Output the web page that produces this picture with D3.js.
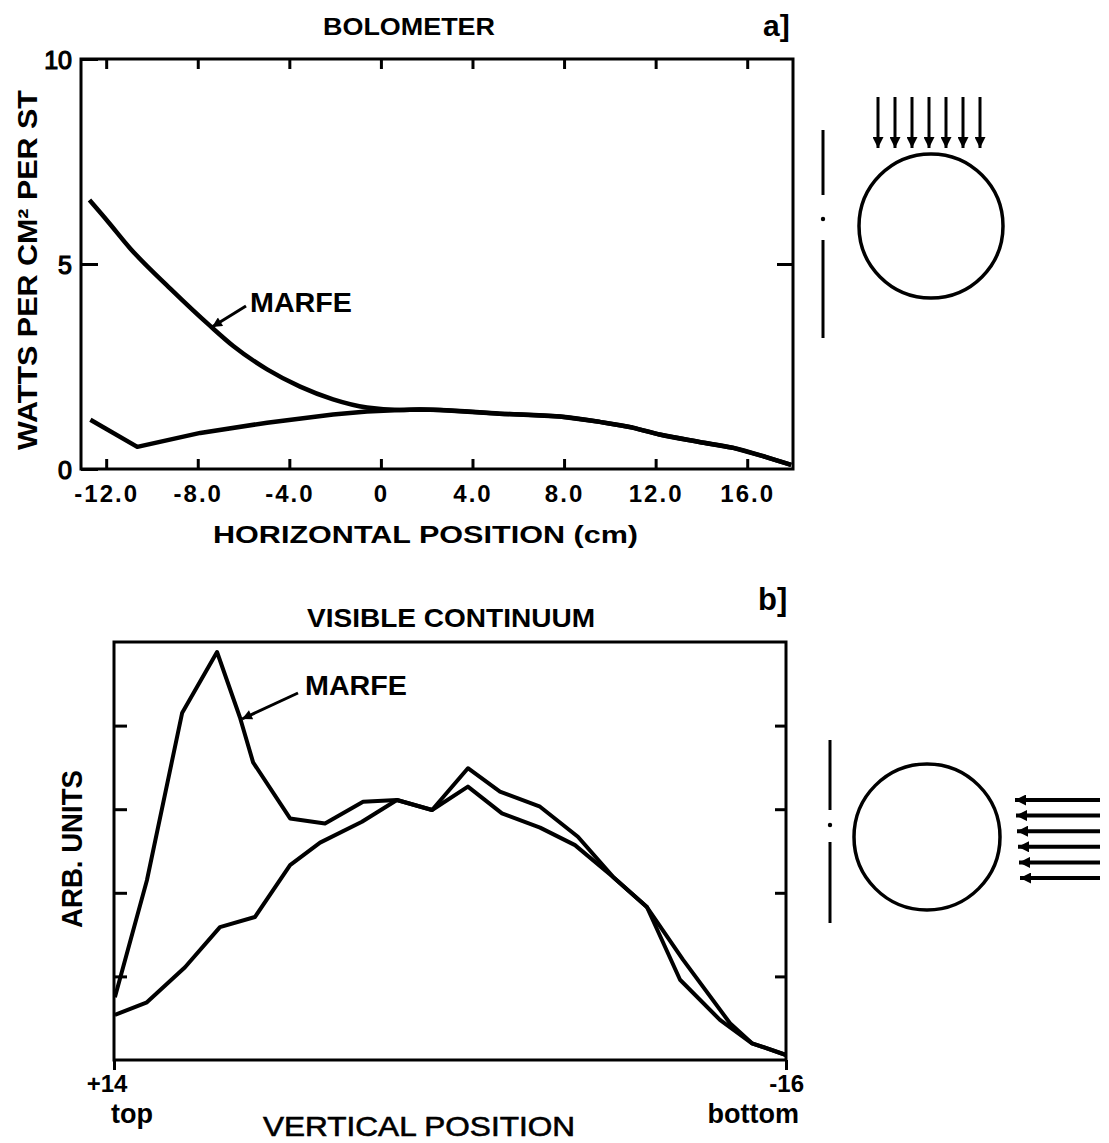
<!DOCTYPE html>
<html>
<head>
<meta charset="utf-8">
<script src="https://cdn.jsdelivr.net/npm/d3@7"></script>
<style>
  body { margin: 0; background: #fff; }
  text { font-family: "Liberation Sans", Arial, sans-serif; font-weight: bold; fill: #000; }
</style>
</head>
<body>
<script>
// a) bolometer, horizontal position (cm) vs watts per cm2 per st
var aMarfeX = [-12.73, -11.9, -10.95, -9.2, -7.46, -6.45, -4.97, -3.53, -2.09, -0.61, 0.83, 1.7, 2.57, 5.19, 7.81, 9.55, 10.99, 12.17, 13.91, 15.35, 16.83, 17.92];
var aMarfeY = [6.56, 6.02, 5.38, 4.40, 3.49, 3.00, 2.43, 2.01, 1.70, 1.50, 1.44, 1.45, 1.44, 1.35, 1.28, 1.15, 1.01, 0.84, 0.66, 0.52, 0.29, 0.10];
var aNormalX = [-12.69, -10.64, -7.89, -4.97, -2.09, -0.61, 0.83, 1.7, 2.57, 5.19, 7.81, 9.55, 10.99, 12.17, 13.91, 15.35, 16.83, 17.92];
var aNormalY = [1.20, 0.54, 0.88, 1.13, 1.33, 1.40, 1.44, 1.45, 1.44, 1.35, 1.28, 1.15, 1.01, 0.84, 0.66, 0.52, 0.29, 0.10];
var aXTicks = [-12, -8, -4, 0, 4, 8, 12, 16];
var aYTicks = [0, 5, 10];

// b) visible continuum, vertical position vs arb. units
var bMarfeX = [13.96, 12.53, 10.96, 9.40, 8.38, 7.79, 6.14, 4.58, 2.88, 1.37, -0.20, -1.80, -3.23, -5.02, -6.71, -8.28, -9.79, -11.27, -13.05, -14.48, -16];
var bMarfeY = [0.75, 2.15, 4.15, 4.88, 4.10, 3.56, 2.89, 2.83, 3.09, 3.11, 2.99, 3.49, 3.21, 3.03, 2.67, 2.19, 1.83, 0.96, 0.48, 0.20, 0.06];
var bNormalX = [13.96, 12.53, 10.83, 9.27, 7.71, 6.14, 4.80, 2.93, 1.37, -0.20, -1.80, -3.32, -5.02, -6.58, -8.28, -9.79, -11.40, -13.50, -14.48, -16];
var bNormalY = [0.54, 0.69, 1.11, 1.59, 1.71, 2.33, 2.60, 2.85, 3.11, 2.99, 3.27, 2.95, 2.78, 2.57, 2.19, 1.83, 1.20, 0.44, 0.20, 0.06];
var bYTicks = [1, 2, 3, 4];
var bEndTicks = [14, -16];
var bEndNums = ["+14", "-16"];
var bEndWords = ["top", "bottom"];

var svg = d3.select("body").append("svg")
  .attr("width", 1109)
  .attr("height", 1143);

svg.append("rect").attr("width", 1109).attr("height", 1143).attr("fill", "#fff");

var defs = svg.append("defs");
function marker(id, len, wid) {
  defs.append("marker")
    .attr("id", id)
    .attr("viewBox", "0 0 10 10")
    .attr("markerUnits", "userSpaceOnUse")
    .attr("markerWidth", len)
    .attr("markerHeight", wid)
    .attr("refX", 10)
    .attr("refY", 5)
    .attr("orient", "auto")
    .append("path")
    .attr("d", "M0,0 L10,5 L0,10 Z")
    .attr("fill", "#000");
}
marker("head", 15, 11);
marker("pointer", 13, 10);

function cleanAxis(g) {
  g.select(".domain").remove();
  g.selectAll(".tick line").attr("stroke", "#000").attr("stroke-width", 3);
}

// ---------- panel a ----------
var xa = d3.scaleLinear().domain([-13.1, 18]).range([81, 793]);
var ya = d3.scaleLinear().domain([0, 10]).range([469, 59]);

var ga = svg.append("g");

ga.append("g")
  .attr("transform", "translate(0," + ya(0) + ")")
  .call(d3.axisBottom(xa).tickValues(aXTicks).tickSize(-10)
    .tickFormat(d => d === 0 ? "0" : d.toFixed(1)))
  .call(cleanAxis)
  .call(g => g.selectAll("text")
    .attr("y", 33).attr("dy", null)
    .style("font-size", "24px").style("letter-spacing", "2px"));

ga.append("g")
  .attr("transform", "translate(0," + ya(10) + ")")
  .call(d3.axisTop(xa).tickValues(aXTicks).tickSize(-10).tickFormat(""))
  .call(cleanAxis);

ga.append("g")
  .attr("transform", "translate(" + xa.range()[0] + ",0)")
  .call(d3.axisLeft(ya).tickValues(aYTicks).tickSize(-17))
  .call(cleanAxis)
  .call(g => g.selectAll("text")
    .attr("x", -9).attr("dy", "0.36em")
    .style("font-size", "25px").style("font-weight", "normal")
    .attr("stroke", "#000").attr("stroke-width", 1.2));

ga.append("g")
  .attr("transform", "translate(" + xa.range()[1] + ",0)")
  .call(d3.axisRight(ya).tickValues([5]).tickSize(-16).tickFormat(""))
  .call(cleanAxis);

ga.append("rect")
  .attr("x", xa.range()[0]).attr("y", ya(10))
  .attr("width", xa.range()[1] - xa.range()[0])
  .attr("height", ya(0) - ya(10))
  .attr("fill", "none").attr("stroke", "#000").attr("stroke-width", 3);

var lineAM = d3.line().x(d => xa(d[0])).y(d => ya(d[1])).curve(d3.curveMonotoneX);
var lineAN = d3.line().x(d => xa(d[0])).y(d => ya(d[1])).curve(d3.curveLinear);

ga.append("path")
  .datum(d3.zip(aNormalX, aNormalY))
  .attr("d", lineAN)
  .attr("fill", "none").attr("stroke", "#000").attr("stroke-width", 4.5)
  .attr("stroke-linejoin", "round");

ga.append("path")
  .datum(d3.zip(aMarfeX, aMarfeY))
  .attr("d", lineAM)
  .attr("fill", "none").attr("stroke", "#000").attr("stroke-width", 4.5)
  .attr("stroke-linejoin", "round");

ga.append("text").attr("x", 323).attr("y", 35)
  .attr("textLength", 172).attr("lengthAdjust", "spacingAndGlyphs")
  .style("font-size", "24px").text("BOLOMETER");
ga.append("text").attr("x", 763).attr("y", 36)
  .style("font-size", "30px").text("a]");
ga.append("text")
  .attr("transform", "translate(37,270) rotate(-90)")
  .attr("text-anchor", "middle")
  .attr("textLength", 360).attr("lengthAdjust", "spacingAndGlyphs")
  .style("font-size", "27px").text("WATTS PER CM² PER ST");
ga.append("text").attr("x", 213).attr("y", 543)
  .attr("textLength", 425).attr("lengthAdjust", "spacingAndGlyphs")
  .style("font-size", "23px").text("HORIZONTAL  POSITION (cm)");

// MARFE pointer a
ga.append("text").attr("x", 250).attr("y", 312)
  .attr("textLength", 102).attr("lengthAdjust", "spacingAndGlyphs")
  .style("font-size", "27px").text("MARFE");
ga.append("line")
  .attr("x1", 246).attr("y1", 306).attr("x2", 212).attr("y2", 327)
  .attr("stroke", "#000").attr("stroke-width", 3)
  .attr("marker-end", "url(#pointer)");

// ---------- panel b ----------
var xb = d3.scaleLinear().domain([14, -16]).range([114, 786]);
var yb = d3.scaleLinear().domain([0, 5]).range([1060, 642]);

var gb = svg.append("g");

gb.append("g")
  .attr("transform", "translate(0," + yb(0) + ")")
  .call(d3.axisBottom(xb).tickValues(bEndTicks).tickSize(10).tickFormat(""))
  .call(cleanAxis);

gb.append("g")
  .attr("transform", "translate(" + xb.range()[0] + ",0)")
  .call(d3.axisLeft(yb).tickValues(bYTicks).tickSize(-13).tickFormat(""))
  .call(cleanAxis);

gb.append("g")
  .attr("transform", "translate(" + xb.range()[1] + ",0)")
  .call(d3.axisRight(yb).tickValues(bYTicks).tickSize(-11).tickFormat(""))
  .call(cleanAxis);

gb.append("rect")
  .attr("x", xb.range()[0]).attr("y", yb(5))
  .attr("width", xb.range()[1] - xb.range()[0])
  .attr("height", yb(0) - yb(5))
  .attr("fill", "none").attr("stroke", "#000").attr("stroke-width", 3);

var lineB = d3.line().x(d => xb(d[0])).y(d => yb(d[1]));

gb.append("path")
  .datum(d3.zip(bNormalX, bNormalY))
  .attr("d", lineB)
  .attr("fill", "none").attr("stroke", "#000").attr("stroke-width", 4)
  .attr("stroke-linejoin", "round");

gb.append("path")
  .datum(d3.zip(bMarfeX, bMarfeY))
  .attr("d", lineB)
  .attr("fill", "none").attr("stroke", "#000").attr("stroke-width", 4)
  .attr("stroke-linejoin", "round");

// end labels under the axis
var ends = gb.selectAll(".endlab")
  .data(d3.zip(bEndTicks, bEndNums, bEndWords))
  .enter().append("g")
  .attr("class", "endlab")
  .attr("transform", d => "translate(" + xb(d[0]) + ",0)");
ends.append("text")
  .attr("x", (d, i) => i === 0 ? -7 : 18)
  .attr("y", 1092)
  .attr("text-anchor", (d, i) => i === 0 ? "middle" : "end")
  .style("font-size", "24px")
  .text(d => d[1]);
ends.append("text")
  .attr("x", (d, i) => i === 0 ? -3 : 13)
  .attr("y", 1123)
  .attr("text-anchor", (d, i) => i === 0 ? "start" : "end")
  .style("font-size", "27px")
  .text(d => d[2]);

gb.append("text").attr("x", 307).attr("y", 627)
  .attr("textLength", 288).attr("lengthAdjust", "spacingAndGlyphs")
  .style("font-size", "26px").text("VISIBLE  CONTINUUM");
gb.append("text").attr("x", 758).attr("y", 610)
  .style("font-size", "31px").text("b]");
gb.append("text")
  .attr("transform", "translate(82,849) rotate(-90)")
  .attr("text-anchor", "middle")
  .attr("textLength", 158).attr("lengthAdjust", "spacingAndGlyphs")
  .style("font-size", "29px").text("ARB. UNITS");
gb.append("text").attr("x", 263).attr("y", 1136)
  .attr("textLength", 312).attr("lengthAdjust", "spacingAndGlyphs")
  .style("font-size", "27px").style("font-weight", "normal")
  .attr("stroke", "#000").attr("stroke-width", 0.6)
  .text("VERTICAL  POSITION");

gb.append("text").attr("x", 305).attr("y", 695)
  .attr("textLength", 102).attr("lengthAdjust", "spacingAndGlyphs")
  .style("font-size", "27px").text("MARFE");
gb.append("line")
  .attr("x1", 298).attr("y1", 693).attr("x2", 242).attr("y2", 719)
  .attr("stroke", "#000").attr("stroke-width", 3)
  .attr("marker-end", "url(#pointer)");

// ---------- viewing geometry sketches ----------
function slit(g, x, top, gap1, dot, gap2, bottom) {
  g.append("line").attr("x1", x).attr("x2", x).attr("y1", top).attr("y2", gap1)
    .attr("stroke", "#000").attr("stroke-width", 3);
  g.append("circle").attr("cx", x).attr("cy", dot).attr("r", 2.2).attr("fill", "#000");
  g.append("line").attr("x1", x).attr("x2", x).attr("y1", gap2).attr("y2", bottom)
    .attr("stroke", "#000").attr("stroke-width", 3);
}

var sa = svg.append("g");
slit(sa, 823, 130, 195, 219, 240, 338);
sa.append("circle").attr("cx", 931).attr("cy", 226).attr("r", 72)
  .attr("fill", "none").attr("stroke", "#000").attr("stroke-width", 3.5);
sa.selectAll(".down").data(d3.range(7)).enter().append("line")
  .attr("x1", i => 878 + i * 17).attr("x2", i => 878 + i * 17)
  .attr("y1", 97).attr("y2", 148)
  .attr("stroke", "#000").attr("stroke-width", 3)
  .attr("marker-end", "url(#head)");

var sb = svg.append("g");
slit(sb, 830, 740, 810, 825, 842, 923);
sb.append("circle").attr("cx", 927).attr("cy", 837).attr("r", 73)
  .attr("fill", "none").attr("stroke", "#000").attr("stroke-width", 3.5);
sb.selectAll(".left").data(d3.range(6)).enter().append("line")
  .attr("x1", 1100).attr("x2", i => 1015 + i)
  .attr("y1", i => 800 + i * 15.6).attr("y2", i => 800 + i * 15.6)
  .attr("stroke", "#000").attr("stroke-width", 4)
  .attr("marker-end", "url(#head)");
</script>
</body>
</html>
